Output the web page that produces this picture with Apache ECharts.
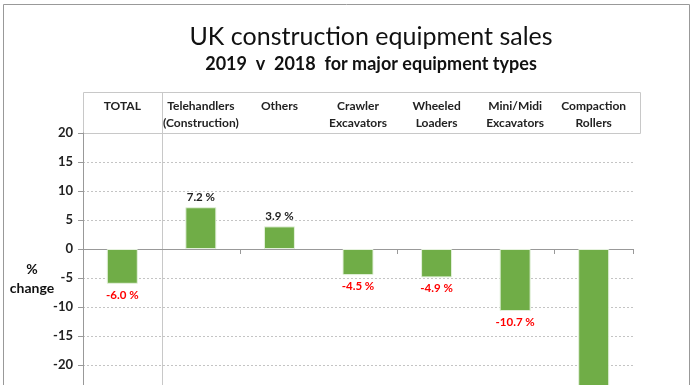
<!DOCTYPE html>
<html><head><meta charset="utf-8">
<script src="https://cdn.jsdelivr.net/npm/echarts@6/dist/echarts.min.js"></script>
<style>html,body{margin:0;padding:0;overflow:hidden;background:#fff;width:696px;height:385px}#c{width:696px;height:500px}</style>
</head><body><div id="c"></div>
<script>
const categories = ['TOTAL','Telehandlers\n(Construction)','Others','Crawler\nExcavators','Wheeled\nLoaders','Mini/Midi\nExcavators','Compaction\nRollers'];
const values = [-6.0, 7.2, 3.9, -4.5, -4.9, -10.7, -30.0];
const yTicks = {min: -35, max: 20, interval: 5};
const titleText = 'UK construction equipment sales';
const subtitleText = '2019  v  2018  for major equipment types';
const yName = '%\nchange';

const FONT = 'Lato, "Open Sans", sans-serif';
const chart = echarts.init(document.getElementById('c'), null, {renderer: 'canvas'});
const option = {
  animation: false,
  backgroundColor: '#fff',
  title: [
    {text: titleText, left: 366, textAlign: 'center', top: 19, textStyle: {fontFamily: FONT, fontSize: 25, fontWeight: 'normal', color: '#111'}},
    {text: subtitleText, left: 366, textAlign: 'center', top: 50, textStyle: {fontFamily: FONT, fontSize: 18, fontWeight: 'bold', color: '#111'}}
  ],
  grid: {left: 83, right: 63, top: 133, bottom: 48, containLabel: false},
  xAxis: [
    {type: 'category', data: categories, position: 'bottom',
      axisLine: {onZero: true, lineStyle: {color: '#999', width: 1}},
      axisTick: {show: true, length: 5, lineStyle: {color: '#999'}},
      axisLabel: {show: false}, splitLine: {show: false}},
    {type: 'category', data: categories, position: 'top', offset: 41,
      axisLine: {show: false}, axisTick: {show: false},
      axisLabel: {inside: true, interval: 0, margin: 6, verticalAlign: 'top', fontFamily: FONT, fontSize: 12, fontWeight: 'bold', color: '#222', lineHeight: 17}}
  ],
  yAxis: {type: 'value', min: yTicks.min, max: yTicks.max, interval: yTicks.interval,
    axisLine: {show: true, lineStyle: {color: '#999'}},
    axisTick: {show: true, length: 5, lineStyle: {color: '#999'}},
    axisLabel: {fontFamily: FONT, fontSize: 13, fontWeight: 'bold', color: '#222', margin: 10},
    splitLine: {show: true, lineStyle: {color: '#c4c4c4', type: [2, 2], width: 1}}},
  series: [{
    type: 'bar', data: values, barWidth: 31, xAxisIndex: 0,
    itemStyle: {color: '#70AD47', borderColor: '#e4f1dc', borderWidth: 1},
    label: {show: true, fontFamily: FONT, fontSize: 11.5, fontWeight: 'bold',
      formatter: p => p.value.toFixed(1) + ' %',
      position: 'top', distance: 4, color: '#222'}
  }]
};
option.series[0].data = values.map(v => ({value: v, label: v < 0 ? {position: 'bottom', color: '#ff0000', distance: 5} : {}}));
chart.setOption(option);

const c0 = chart.convertToPixel({xAxisIndex: 0}, 0);
const c1 = chart.convertToPixel({xAxisIndex: 0}, 1);
const sepX = Math.round((c0 + c1) / 2) + 0.5;
const topY = chart.convertToPixel({yAxisIndex: 0}, yTicks.max);
chart.setOption({graphic: [
  {type: 'rect', shape: {x: 3.5, y: 4.5, width: 686, height: 600}, style: {fill: null, stroke: '#999', lineWidth: 1}, silent: true},
  {type: 'rect', shape: {x: 83.5, y: 92.5, width: 557, height: topY - 92}, style: {fill: null, stroke: '#c8c8c8', lineWidth: 1}, silent: true},
  {type: 'line', shape: {x1: sepX, y1: 92.5, x2: sepX, y2: 600}, style: {stroke: '#c8c8c8', lineWidth: 1}, silent: true},
  {type: 'text', x: 32, y: 260, style: {text: yName, fontFamily: FONT, fontSize: 14, fontWeight: 'bold', fill: '#111', align: 'center', lineHeight: 19}, silent: true}
]});
</script></body></html>
